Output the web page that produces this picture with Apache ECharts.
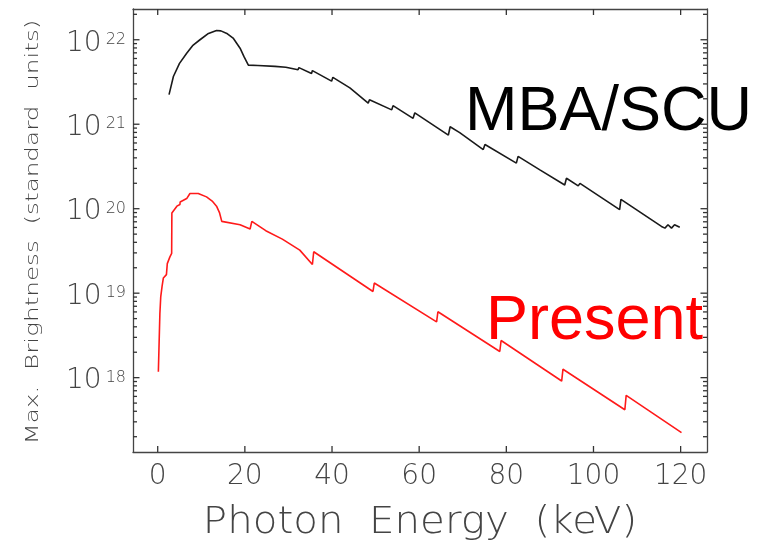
<!DOCTYPE html>
<html><head><meta charset="utf-8">
<script src="https://cdn.jsdelivr.net/npm/echarts@6/dist/echarts.min.js"></script>
<style>html,body{margin:0;padding:0;background:#fff}#c{width:762px;height:545px}</style>
</head><body><div id="c"></div>
<script>
// ---- data (photon energy in keV, brightness as log10 exponent) ----
const xTickValues = [0, 20, 40, 60, 80, 100, 120];
const yDecadeExponents = [18, 19, 20, 21, 22];
const seriesNames = ['MBA/SCU', 'Present'];

const mbaEnergy = [2.6, 3.6, 5.0, 6.65, 8.0, 9.7, 11.5, 13.5, 14.5, 16.0, 17.3, 18.9, 19.8, 20.8,
  23.0, 23.2, 26.9, 27.1, 29.4, 29.6, 32.2, 32.4, 35.3, 35.5, 39.9, 40.2, 44.1, 48.3, 48.6,
  53.7, 54.0, 58.6, 59.0, 66.7, 67.1, 69.3, 74.7, 75.1, 82.3, 82.7, 87.7, 93.4, 93.8,
  96.5, 96.9, 106.0, 106.3, 115.6, 116.4, 117.1, 117.9, 118.6, 119.8];
const mbaLogB = [21.35, 21.565, 21.72, 21.84, 21.93, 22.0, 22.07, 22.11, 22.105, 22.07, 22.02, 21.90, 21.80, 21.70,
  21.695, 21.705, 21.685, 21.70, 21.675, 21.69, 21.645, 21.67, 21.60, 21.635, 21.51, 21.555, 21.43, 21.25, 21.29,
  21.17, 21.22, 21.07, 21.135, 20.87, 20.97, 20.90, 20.70, 20.76, 20.54, 20.62, 20.46, 20.28, 20.36,
  20.27, 20.30, 19.99, 20.11, 19.79, 19.77, 19.81, 19.77, 19.81, 19.78];

const presentEnergy = [0.15, 0.3, 0.5, 0.7, 1.0, 1.3, 2.0, 2.2, 2.8, 3.2, 3.25, 4.4, 5.1, 5.15, 6.65, 7.4,
  9.3, 11.2, 12.5, 13.5, 14.2, 14.7, 14.9, 18.9, 21.2, 21.6, 24.8, 28.6, 32.6, 35.5, 35.8,
  49.4, 49.7, 64.0, 64.3, 78.5, 78.8, 92.7, 93.0, 107.2, 107.5, 120.2];
const presentLogB = [18.07, 18.37, 18.76, 18.96, 19.08, 19.18, 19.22, 19.35, 19.43, 19.47, 19.95, 20.03, 20.05, 20.08, 20.12, 20.18,
  20.18, 20.14, 20.09, 20.03, 19.95, 19.85, 19.87, 19.81, 19.76, 19.85, 19.74, 19.64, 19.51, 19.34, 19.49,
  19.02, 19.12, 18.66, 18.78, 18.31, 18.44, 17.96, 18.10, 17.62, 17.79, 17.35];

// ---- axis helpers ----
const xMin = -5.67, xMax = 126.05;
const yMin = Math.pow(10, 17.12), yMax = Math.pow(10, 22.364);
const majorVals = yDecadeExponents.map(e => Math.pow(10, e));
const minorVals = [];
for (let d = 17; d <= 22; d++) for (let k = 2; k <= 9; k++) {
  const v = k * Math.pow(10, d);
  if (v > yMin && v < yMax) minorVals.push(v);
}
const axisColor = '#444';
const tickColor = '#333';
const tickFont = 'DejaVu Sans';
const tickStyle = { stroke: tickColor, lineWidth: 1.3 };

function xAxisCfg(pos, labels) {
  return {
    type: 'value', min: xMin, max: xMax, position: pos, splitNumber: 6,
    axisLine: { show: true, onZero: false, lineStyle: { color: axisColor, width: 1.3 } },
    axisTick: { show: false },
    axisLabel: labels ? { show: true, customValues: xTickValues, margin: 11, fontSize: 28, fontFamily: tickFont, fontWeight: 200, color: axisColor } : { show: false },
    splitLine: { show: false }
  };
}

const chart = echarts.init(document.getElementById('c'));
chart.setOption({
  animation: false,
  backgroundColor: '#fff',
  grid: { left: 133, right: 55, top: 9, bottom: 93, containLabel: false, outerBoundsMode: 'none' },
  xAxis: [xAxisCfg('bottom', true), xAxisCfg('top', false)],
  yAxis: [
    { type: 'log', logBase: 10, min: yMin, max: yMax, position: 'left',
      axisLine: { show: true, onZero: false, lineStyle: { color: axisColor, width: 1.3 } },
      axisTick: { show: false },
      axisLabel: {
        show: true, customValues: majorVals, margin: 7,
        formatter: v => '{b|10}{s|' + Math.round(Math.log10(v)) + '}',
        rich: {
          b: { fontSize: 28, fontFamily: tickFont, fontWeight: 200, color: axisColor, lineHeight: 28, padding: [7, 0, 0, 0] },
          s: { fontSize: 16, fontFamily: tickFont, fontWeight: 200, color: axisColor, lineHeight: 16, verticalAlign: 'top', padding: [6, 0, 0, 4] }
        }
      },
      splitLine: { show: false } },
    { type: 'log', logBase: 10, min: yMin, max: yMax, position: 'right',
      axisLine: { show: true, onZero: false, lineStyle: { color: axisColor, width: 1.3 } },
      axisTick: { show: false }, axisLabel: { show: false }, splitLine: { show: false } }
  ],
  series: [
    { name: seriesNames[0], type: 'line', xAxisIndex: 0, yAxisIndex: 0, showSymbol: false, symbol: 'none',
      lineStyle: { color: '#1a1a1a', width: 1.6 },
      data: mbaEnergy.map((e, i) => [e, Math.pow(10, mbaLogB[i])]) },
    { name: seriesNames[1], type: 'line', xAxisIndex: 0, yAxisIndex: 0, showSymbol: false, symbol: 'none',
      lineStyle: { color: '#ff1a1a', width: 1.6 },
      data: presentEnergy.map((e, i) => [e, Math.pow(10, presentLogB[i])]) },
    { name: 'yTicks', type: 'custom', xAxisIndex: 0, yAxisIndex: 0, clip: false, silent: true, z: 5,
      data: majorVals.concat(minorVals).map(v => [xMin, v]),
      renderItem: (params, api) => {
        const v = api.value(1);
        const lg = Math.log10(v);
        const len = Math.abs(lg - Math.round(lg)) < 1e-6 ? 6.5 : 4;
        const pL = api.coord([xMin, v]);
        const pR = api.coord([xMax, v]);
        return { type: 'group', children: [
          { type: 'line', shape: { x1: pL[0], y1: pL[1], x2: pL[0] + len, y2: pL[1] }, style: tickStyle },
          { type: 'line', shape: { x1: pR[0] - len, y1: pR[1], x2: pR[0], y2: pR[1] }, style: tickStyle }
        ] };
      } },
    { name: 'xTicks', type: 'custom', xAxisIndex: 0, yAxisIndex: 0, clip: false, silent: true, z: 5,
      data: xTickValues.map(v => [v, yMin]),
      renderItem: (params, api) => {
        const v = api.value(0);
        const pB = api.coord([v, yMin]);
        const pT = api.coord([v, yMax]);
        return { type: 'group', children: [
          { type: 'line', shape: { x1: pB[0], y1: pB[1], x2: pB[0], y2: pB[1] - 6 }, style: tickStyle },
          { type: 'line', shape: { x1: pT[0], y1: pT[1], x2: pT[0], y2: pT[1] + 6 }, style: tickStyle }
        ] };
      } }
  ],
  graphic: [
    { type: 'rect', shape: { x: 708, y: 455, width: 54, height: 42 }, style: { fill: '#fff' }, z: 50 },
    { type: 'text', x: 420, y: 523, scaleX: 1.09, z: 60,
      style: { text: 'Photon  Energy  (keV)', fontSize: 37, fontFamily: tickFont, fontWeight: 200, fill: axisColor, align: 'center', verticalAlign: 'middle' } },
    { type: 'text', x: 33, y: 232, rotation: Math.PI / 2, scaleX: 1.37, z: 60,
      style: { text: 'Max.  Brightness  (standard  units)', fontSize: 18, fontFamily: tickFont, fontWeight: 200, fill: axisColor, align: 'center', verticalAlign: 'middle' } },
    { type: 'text', x: 465, y: 113, z: 100,
      style: { text: seriesNames[0], fontSize: 63, fontFamily: '"Liberation Sans", Arial, sans-serif', fill: '#000', align: 'left', verticalAlign: 'middle' } },
    { type: 'text', x: 486, y: 322, z: 100,
      style: { text: seriesNames[1], fontSize: 63, fontFamily: '"Liberation Sans", Arial, sans-serif', fill: '#ff0000', align: 'left', verticalAlign: 'middle' } }
  ]
});
</script></body></html>
